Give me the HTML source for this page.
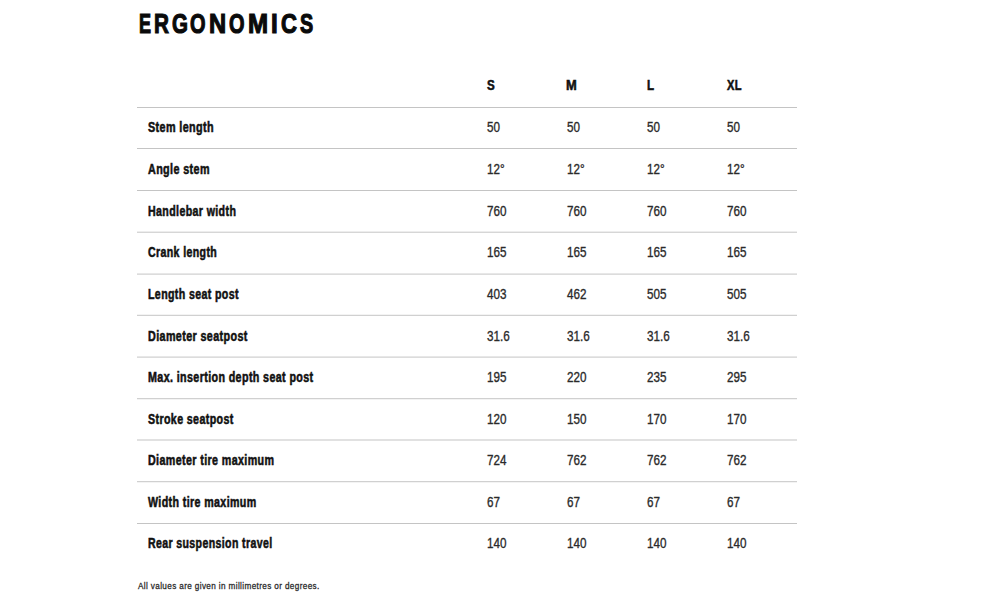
<!DOCTYPE html>
<html><head><meta charset="utf-8"><style>
html,body{margin:0;padding:0;background:#fff;width:1000px;height:600px;overflow:hidden;position:relative}
body{font-family:"Liberation Sans",sans-serif}
.t{position:absolute;white-space:nowrap;transform-origin:0 0;line-height:20px;height:20px}
.b{font-weight:bold;letter-spacing:0.5px;-webkit-text-stroke:0.55px currentColor;font-size:14.0px;color:#111;transform:scaleX(0.825)}
.v{font-weight:normal;-webkit-text-stroke:0.35px currentColor;font-size:14.5px;color:#2a2a2a;transform:scaleX(0.805)}
.ln{position:absolute;left:137px;width:660px;height:1px;background:#c4c4c4}
.hl{position:absolute;margin:0;-webkit-text-stroke:1.2px currentColor;top:3.0px;font-size:28.5px;line-height:40px;font-weight:bold;color:#0a0a0a;transform-origin:0 0;white-space:nowrap}
.fn{position:absolute;letter-spacing:0.45px;-webkit-text-stroke:0.3px currentColor;left:138px;top:579.0px;font-size:9.9px;line-height:14px;color:#2a2a2a;transform:scaleX(0.8263);transform-origin:0 0;white-space:nowrap}
</style></head><body>
<div class="hl" style="left:138.67px;transform:scaleX(0.6333)">E</div>
<div class="hl" style="left:154.17px;transform:scaleX(0.7263)">R</div>
<div class="hl" style="left:171.88px;transform:scaleX(0.7200)">G</div>
<div class="hl" style="left:190.40px;transform:scaleX(0.7000)">O</div>
<div class="hl" style="left:209.47px;transform:scaleX(0.8333)">N</div>
<div class="hl" style="left:229.10px;transform:scaleX(0.7000)">O</div>
<div class="hl" style="left:247.95px;transform:scaleX(0.8455)">M</div>
<div class="hl" style="left:271.35px;transform:scaleX(0.8500)">I</div>
<div class="hl" style="left:280.73px;transform:scaleX(0.7737)">C</div>
<div class="hl" style="left:300.00px;transform:scaleX(0.6947)">S</div>

<div class="t b" style="left:487px;top:74.8px;transform:scaleX(0.825)">S</div>
<div class="t b" style="left:566.2px;top:74.8px;transform:scaleX(0.92)">M</div>
<div class="t b" style="left:646.5px;top:74.8px;transform:scaleX(0.825)">L</div>
<div class="t b" style="left:727px;top:74.8px;transform:scaleX(0.79)">XL</div>
<div class="ln" style="top:107px;opacity:1.000"></div>
<div class="ln" style="top:148px;opacity:1.000"></div>
<div class="ln" style="top:190px;opacity:1.000"></div>
<div class="ln" style="top:231px;opacity:0.300"></div>
<div class="ln" style="top:232px;opacity:0.700"></div>
<div class="ln" style="top:273px;opacity:0.400"></div>
<div class="ln" style="top:274px;opacity:0.600"></div>
<div class="ln" style="top:314px;opacity:0.200"></div>
<div class="ln" style="top:315px;opacity:0.800"></div>
<div class="ln" style="top:356px;opacity:0.400"></div>
<div class="ln" style="top:357px;opacity:0.600"></div>
<div class="ln" style="top:398px;opacity:0.800"></div>
<div class="ln" style="top:399px;opacity:0.200"></div>
<div class="ln" style="top:439px;opacity:0.500"></div>
<div class="ln" style="top:440px;opacity:0.500"></div>
<div class="ln" style="top:481px;opacity:0.800"></div>
<div class="ln" style="top:482px;opacity:0.200"></div>
<div class="ln" style="top:523px;opacity:1.000"></div>
<div class="t b" style="left:148.2px;top:117.0px;transform:scaleX(0.7702)">Stem length</div>
<div class="t v" style="left:486.7px;top:117.0px">50</div>
<div class="t v" style="left:566.7px;top:117.0px">50</div>
<div class="t v" style="left:646.7px;top:117.0px">50</div>
<div class="t v" style="left:726.7px;top:117.0px">50</div>
<div class="t b" style="left:148.2px;top:159.0px;transform:scaleX(0.7689)">Angle stem</div>
<div class="t v" style="left:486.7px;top:159.0px">12°</div>
<div class="t v" style="left:566.7px;top:159.0px">12°</div>
<div class="t v" style="left:646.7px;top:159.0px">12°</div>
<div class="t v" style="left:726.7px;top:159.0px">12°</div>
<div class="t b" style="left:148.2px;top:201.0px;transform:scaleX(0.7582)">Handlebar width</div>
<div class="t v" style="left:486.7px;top:201.0px">760</div>
<div class="t v" style="left:566.7px;top:201.0px">760</div>
<div class="t v" style="left:646.7px;top:201.0px">760</div>
<div class="t v" style="left:726.7px;top:201.0px">760</div>
<div class="t b" style="left:148.2px;top:242.0px;transform:scaleX(0.7553)">Crank length</div>
<div class="t v" style="left:486.7px;top:242.0px">165</div>
<div class="t v" style="left:566.7px;top:242.0px">165</div>
<div class="t v" style="left:646.7px;top:242.0px">165</div>
<div class="t v" style="left:726.7px;top:242.0px">165</div>
<div class="t b" style="left:148.2px;top:284.0px;transform:scaleX(0.7575)">Length seat post</div>
<div class="t v" style="left:486.7px;top:284.0px">403</div>
<div class="t v" style="left:566.7px;top:284.0px">462</div>
<div class="t v" style="left:646.7px;top:284.0px">505</div>
<div class="t v" style="left:726.7px;top:284.0px">505</div>
<div class="t b" style="left:148.2px;top:326.0px;transform:scaleX(0.7679)">Diameter seatpost</div>
<div class="t v" style="left:486.7px;top:326.0px">31.6</div>
<div class="t v" style="left:566.7px;top:326.0px">31.6</div>
<div class="t v" style="left:646.7px;top:326.0px">31.6</div>
<div class="t v" style="left:726.7px;top:326.0px">31.6</div>
<div class="t b" style="left:148.2px;top:367.0px;transform:scaleX(0.7648)">Max. insertion depth seat post</div>
<div class="t v" style="left:486.7px;top:367.0px">195</div>
<div class="t v" style="left:566.7px;top:367.0px">220</div>
<div class="t v" style="left:646.7px;top:367.0px">235</div>
<div class="t v" style="left:726.7px;top:367.0px">295</div>
<div class="t b" style="left:148.2px;top:409.0px;transform:scaleX(0.7612)">Stroke seatpost</div>
<div class="t v" style="left:486.7px;top:409.0px">120</div>
<div class="t v" style="left:566.7px;top:409.0px">150</div>
<div class="t v" style="left:646.7px;top:409.0px">170</div>
<div class="t v" style="left:726.7px;top:409.0px">170</div>
<div class="t b" style="left:148.2px;top:450.0px;transform:scaleX(0.7647)">Diameter tire maximum</div>
<div class="t v" style="left:486.7px;top:450.0px">724</div>
<div class="t v" style="left:566.7px;top:450.0px">762</div>
<div class="t v" style="left:646.7px;top:450.0px">762</div>
<div class="t v" style="left:726.7px;top:450.0px">762</div>
<div class="t b" style="left:148.2px;top:492.0px;transform:scaleX(0.7609)">Width tire maximum</div>
<div class="t v" style="left:486.7px;top:492.0px">67</div>
<div class="t v" style="left:566.7px;top:492.0px">67</div>
<div class="t v" style="left:646.7px;top:492.0px">67</div>
<div class="t v" style="left:726.7px;top:492.0px">67</div>
<div class="t b" style="left:148.2px;top:533.0px;transform:scaleX(0.7539)">Rear suspension travel</div>
<div class="t v" style="left:486.7px;top:533.0px">140</div>
<div class="t v" style="left:566.7px;top:533.0px">140</div>
<div class="t v" style="left:646.7px;top:533.0px">140</div>
<div class="t v" style="left:726.7px;top:533.0px">140</div>
<div class="fn">All values are given in millimetres or degrees.</div>
</body></html>
